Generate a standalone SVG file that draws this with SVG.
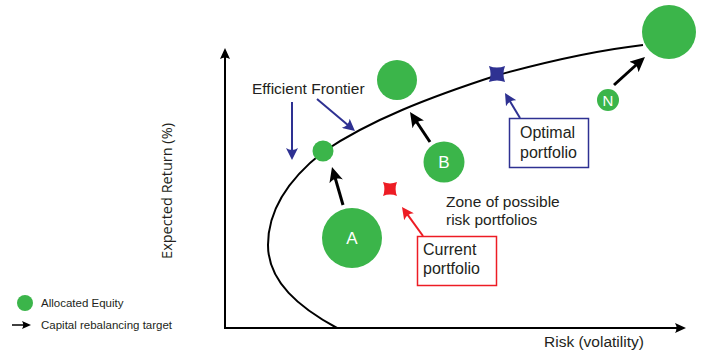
<svg xmlns="http://www.w3.org/2000/svg" width="702" height="354" viewBox="0 0 702 354">
  <defs>
    <style>
      text { font-family: "Liberation Sans", Arial, sans-serif; fill: #231f20; }
      .lbl { font-size: 15.5px; }
      .box-lbl { font-size: 16px; }
      .legend { font-size: 11.5px; }
      .axis-title { font-family: "Open Sans", "Liberation Sans", sans-serif; font-size: 14.5px; }
      .in-dot { fill: #ffffff; text-anchor: middle; font-size: 17px; }
      .equity { fill: #3bb54a; }
      .axis { stroke: #000; stroke-width: 2; fill: none; }
      .frontier { stroke: #000; stroke-width: 2; fill: none; }
      .move { stroke: #000; stroke-width: 3; fill: none; }
      .blue-ptr { stroke: #2e3192; stroke-width: 2; fill: none; }
      .red-ptr { stroke: #ed1c24; stroke-width: 2; fill: none; }
    </style>
    <marker id="head-black" viewBox="0 0 15 14" markerWidth="15" markerHeight="14" refX="6" refY="7" orient="auto" markerUnits="userSpaceOnUse">
      <path d="M0,0 L15,7 L0,14 Q5,7 0,0 Z" fill="#000"/>
    </marker>
    <marker id="head-axis" viewBox="0 0 11 10" markerWidth="11" markerHeight="10" refX="5" refY="5" orient="auto" markerUnits="userSpaceOnUse">
      <path d="M0,0 L11,5 L0,10 Q3,5 0,0 Z" fill="#000"/>
    </marker>
    <marker id="head-legend" viewBox="0 0 9 8" markerWidth="9" markerHeight="8" refX="4" refY="4" orient="auto" markerUnits="userSpaceOnUse">
      <path d="M0,0 L9,4 L0,8 Q2.5,4 0,0 Z" fill="#000"/>
    </marker>
    <marker id="head-blue" viewBox="0 0 12 12" markerWidth="12" markerHeight="12" refX="5" refY="6" orient="auto" markerUnits="userSpaceOnUse">
      <path d="M0,0 L12,6 L0,12 Q4,6 0,0 Z" fill="#2e3192"/>
    </marker>
    <marker id="head-red" viewBox="0 0 12 12" markerWidth="12" markerHeight="12" refX="5" refY="6" orient="auto" markerUnits="userSpaceOnUse">
      <path d="M0,0 L12,6 L0,12 Q4,6 0,0 Z" fill="#ed1c24"/>
    </marker>
    <!-- square with pinched (concave) sides, corners on the diagonals -->
    <path id="star" d="M-7,-7 Q0,-4.2 7,-7 Q4.2,0 7,7 Q0,4.2 -7,7 Q-4.2,0 -7,-7 Z"/>
  </defs>

  <rect width="702" height="354" fill="#ffffff"/>

  <!-- axes -->
  <g id="axes">
    <line class="axis" x1="225" y1="328" x2="225" y2="54" marker-end="url(#head-axis)"/>
    <line class="axis" x1="224" y1="328" x2="680" y2="328" marker-end="url(#head-axis)"/>
    <text class="axis-title" transform="translate(172,191) rotate(-90)" text-anchor="middle">Expected Return (%)</text>
    <text class="lbl" x="544" y="347">Risk (volatility)</text>
  </g>

  <!-- efficient frontier curve -->
  <g id="frontier">
    <path class="frontier" d="M337,328 C300,308 268,282 268,245 C268,208 290,178 323,152 C370,120 430,97 498,75 C560,58 600,50 643,45"/>
  </g>

  <!-- equity circles -->
  <g id="node-top-right"><circle class="equity" cx="669" cy="32" r="27"/></g>
  <g id="node-top-mid"><circle class="equity" cx="397" cy="80" r="20"/></g>
  <g id="node-small"><circle class="equity" cx="323" cy="151" r="10.5"/></g>
  <g id="node-b">
    <circle class="equity" cx="444" cy="162" r="20.5"/>
    <text class="in-dot" x="444" y="168">B</text>
  </g>
  <g id="node-a">
    <circle class="equity" cx="352" cy="238" r="30"/>
    <text class="in-dot" x="352" y="244">A</text>
  </g>
  <g id="node-n">
    <circle class="equity" cx="608" cy="100" r="11"/>
    <text class="in-dot" x="608" y="106" style="font-size:15px">N</text>
  </g>

  <!-- portfolio markers -->
  <g id="optimal-star"><use href="#star" transform="translate(497,74) scale(1.15)" fill="#2e3192"/></g>
  <g id="current-star"><use href="#star" transform="translate(390,189)" fill="#ed1c24"/></g>

  <!-- labels -->
  <g id="label-frontier"><text class="lbl" x="252" y="94">Efficient Frontier</text></g>
  <g id="label-zone">
    <text class="lbl" x="446" y="207">Zone of possible</text>
    <text class="lbl" x="446" y="225">risk portfolios</text>
  </g>
  <g id="box-optimal">
    <rect x="509.5" y="118.5" width="79" height="49" fill="#fff" stroke="#2e3192" stroke-width="1.5"/>
    <text class="box-lbl" x="520" y="138">Optimal</text>
    <text class="box-lbl" x="520" y="158">portfolio</text>
  </g>
  <g id="box-current">
    <rect x="417.5" y="236.5" width="79" height="49" fill="#fff" stroke="#ed1c24" stroke-width="1.5"/>
    <text class="box-lbl" x="423" y="255">Current</text>
    <text class="box-lbl" x="423" y="274">portfolio</text>
  </g>

  <!-- connectors -->
  <g id="connectors">
    <line class="move" x1="343" y1="205" x2="334.5" y2="175.6" marker-end="url(#head-black)"/>
    <line class="move" x1="430" y1="142" x2="415" y2="119.5" marker-end="url(#head-black)"/>
    <line class="move" x1="614" y1="85" x2="638.3" y2="63" marker-end="url(#head-black)"/>
    <line class="blue-ptr" x1="292" y1="102" x2="292" y2="153" marker-end="url(#head-blue)"/>
    <line class="blue-ptr" x1="317" y1="99" x2="349.6" y2="126.5" marker-end="url(#head-blue)"/>
    <line class="blue-ptr" x1="520" y1="118" x2="508.6" y2="99" marker-end="url(#head-blue)"/>
    <line class="red-ptr" x1="423" y1="236" x2="406.1" y2="212.7" marker-end="url(#head-red)"/>
  </g>

  <!-- legend -->
  <g id="legend">
    <circle class="equity" cx="25" cy="303" r="8"/>
    <text class="legend" x="41" y="307">Allocated Equity</text>
    <line x1="12" y1="325" x2="26" y2="325" stroke="#000" stroke-width="1.5" marker-end="url(#head-legend)"/>
    <text class="legend" x="41" y="329">Capital rebalancing target</text>
  </g>
</svg>
